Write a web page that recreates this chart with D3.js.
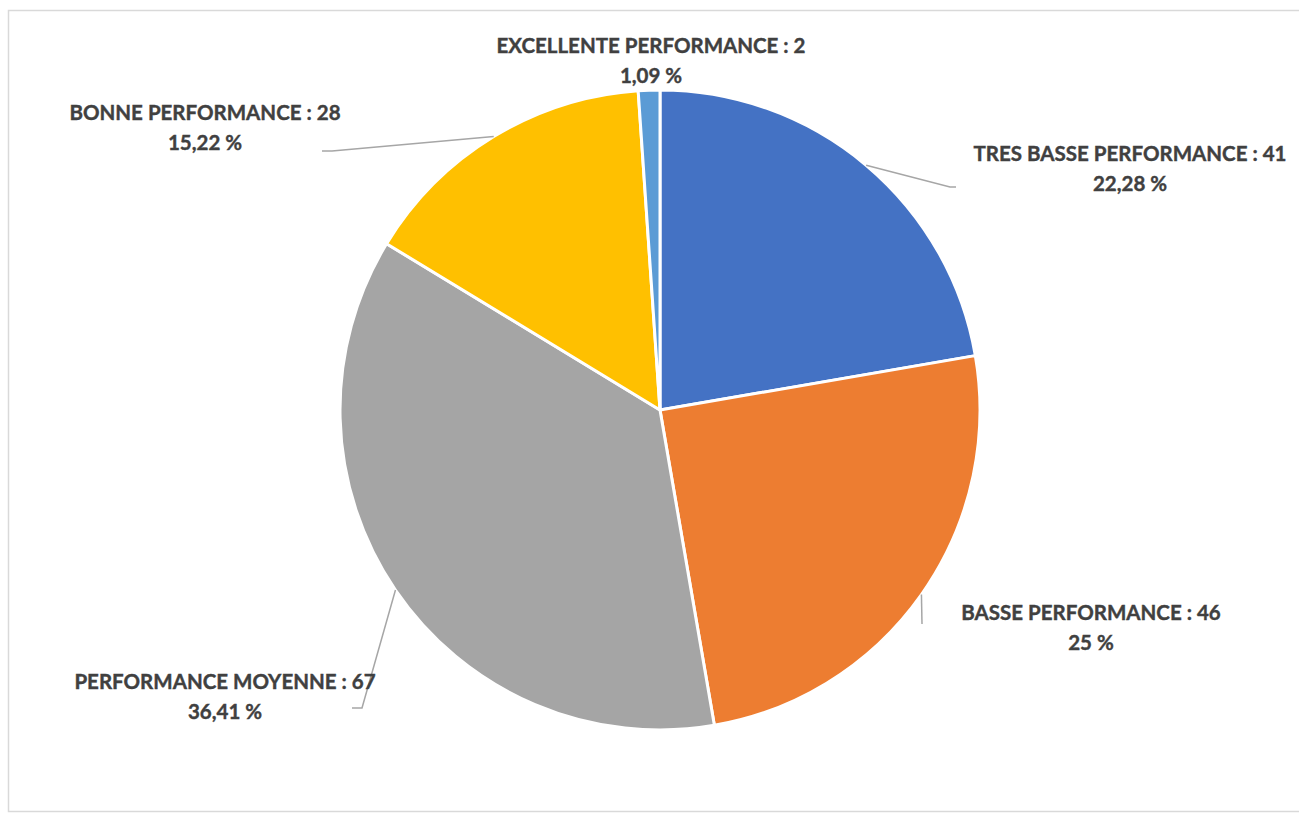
<!DOCTYPE html>
<html>
<head>
<meta charset="utf-8">
<script src="https://cdn.jsdelivr.net/npm/d3@7"></script>
<style>
  html, body { margin: 0; padding: 0; background: #fff; }
  svg { display: block; }
</style>
</head>
<body>
<svg id="chart" width="1299" height="813"></svg>
<script>
// ---- data ----
const categories = [
  "TRES BASSE PERFORMANCE",
  "BASSE PERFORMANCE",
  "PERFORMANCE MOYENNE",
  "BONNE PERFORMANCE",
  "EXCELLENTE PERFORMANCE"
];
const values = [41, 46, 67, 28, 2];
const colors = ["#4472C4", "#ED7D31", "#A5A5A5", "#FFC000", "#5B9BD5"];

// ---- layout (label placement, leader elbows) ----
const labelPos = [
  { x: 1130, y: 161 },
  { x: 1091, y: 620 },
  { x: 225,  y: 689 },
  { x: 205,  y: 120 },
  { x: 651,  y: 53 }
];
const leaderPts = [
  [[950, 187], [956, 187]],
  [[922, 624]],
  [[362, 708], [352, 708]],
  [[332, 151], [322, 151]],
  null
];

const svg = d3.select("#chart");
const cx = 660, cy = 410, R = 320;

// outer frame
svg.append("rect")
  .attr("x", 8.5).attr("y", 10.5)
  .attr("width", 1300).attr("height", 801)
  .attr("fill", "none").attr("stroke", "#D9D9D9").attr("stroke-width", 1.5);

const total = d3.sum(values);
const data = categories.map((c, i) => ({ cat: c, value: values[i], color: colors[i], i }));

const pie = d3.pie().value(d => d.value).sort(null);
const arcs = pie(data);
const arc = d3.arc().innerRadius(0).outerRadius(R);
const edgeArc = d3.arc().innerRadius(R).outerRadius(R);

const g = svg.append("g").attr("transform", `translate(${cx},${cy})`);

g.selectAll("path.slice")
  .data(arcs)
  .join("path")
  .attr("class", "slice")
  .attr("d", arc)
  .attr("fill", d => d.data.color)
  .attr("stroke", "#fff")
  .attr("stroke-width", 3)
  .attr("stroke-linejoin", "round");

// leader lines
arcs.forEach((a, i) => {
  const pts = leaderPts[i];
  if (!pts) return;
  const c = edgeArc.centroid(a);
  const line = [[cx + c[0], cy + c[1]], ...pts];
  svg.append("path")
    .attr("d", d3.line()(line))
    .attr("fill", "none")
    .attr("stroke", "#A6A6A6")
    .attr("stroke-width", 1.5);
});

// labels
const pctFmt = d3.format(".2~f");
arcs.forEach((a, i) => {
  const p = labelPos[i];
  const pct = pctFmt(a.data.value / total * 100).replace(".", ",") + " %";
  const t = svg.append("text")
    .attr("x", p.x).attr("y", p.y)
    .attr("text-anchor", "middle")
    .attr("font-family", "Lato, 'Open Sans', sans-serif")
    .attr("font-weight", "bold")
    .attr("font-size", 20.5)
    .attr("fill", "#404040")
    .attr("stroke", "#404040")
    .attr("stroke-width", 0.4);
  t.append("tspan").attr("x", p.x).text(`${a.data.cat} : ${a.data.value}`);
  t.append("tspan").attr("x", p.x).attr("dy", 29.5).text(pct);
});
</script>
</body>
</html>
